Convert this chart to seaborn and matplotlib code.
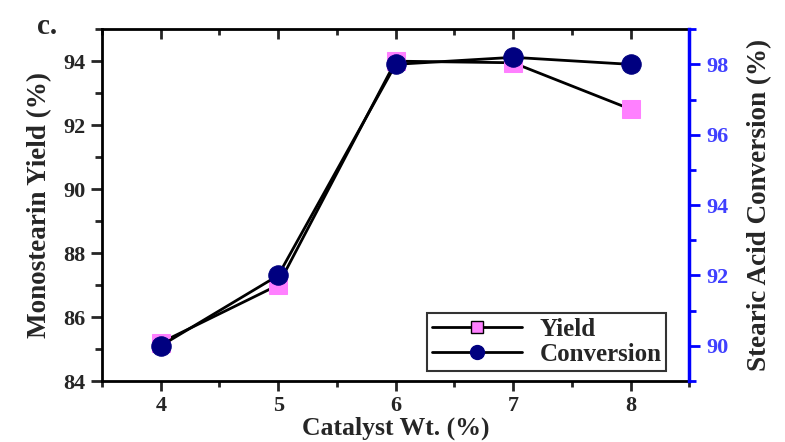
import matplotlib
matplotlib.use("Agg")
import matplotlib.pyplot as plt
from matplotlib.ticker import MultipleLocator
from matplotlib.lines import Line2D
import seaborn as sns
import pandas as pd

catalyst_wt = [4, 5, 6, 7, 8]
yield_pct = [85.2, 87.0, 94.0, 93.95, 92.5]
conversion_pct = [90.0, 92.0, 98.0, 98.2, 98.0]

sns.set_style("ticks")
plt.rcParams["font.family"] = ["Liberation Serif", "DejaVu Serif"]
plt.rcParams["font.weight"] = "bold"

df = pd.DataFrame({"wt": catalyst_wt, "yield": yield_pct, "conv": conversion_pct})

fig = plt.figure(figsize=(7.85, 4.42), dpi=100)
ax = fig.add_axes([0.130, 0.138, 0.748, 0.796])
ax2 = ax.twinx()

pink = "#ff80ff"
navy = "#000080"
blue = "#0000ff"

sns.lineplot(data=df, x="wt", y="yield", ax=ax, color="black", lw=2.0,
             marker="s", markersize=13, markerfacecolor=pink, markeredgecolor=pink,
             legend=False)
sns.lineplot(data=df, x="wt", y="conv", ax=ax2, color="black", lw=2.0,
             marker="o", markersize=14, markerfacecolor=navy, markeredgecolor=navy,
             legend=False)

ax.set_xlim(3.5, 8.5)
ax.set_ylim(84, 95)
ax2.set_ylim(89, 99)

ax.xaxis.set_major_locator(MultipleLocator(1))
ax.xaxis.set_minor_locator(MultipleLocator(0.5))
ax.yaxis.set_major_locator(MultipleLocator(2))
ax.yaxis.set_minor_locator(MultipleLocator(1))
ax2.set_yticks([90, 92, 94, 96, 98])
ax2.yaxis.set_minor_locator(MultipleLocator(1))

for sp in ax.spines.values():
    sp.set_linewidth(2)
    sp.set_color("black")
for name, sp in ax2.spines.items():
    sp.set_linewidth(2)
    sp.set_visible(name == "right")
ax2.spines["right"].set_color(blue)
ax2.spines["right"].set_linewidth(2.5)

tick_fs = 16
ax.tick_params(axis="x", which="both", direction="out", top=True, width=2, labelsize=tick_fs)
ax.tick_params(axis="x", which="major", length=7, pad=4)
ax.tick_params(axis="x", which="minor", length=4)
ax.tick_params(axis="y", which="both", direction="out", width=2, labelsize=tick_fs)
ax.tick_params(axis="y", which="major", length=8, pad=4)
ax.tick_params(axis="y", which="minor", length=5)
ax2.tick_params(axis="y", which="both", direction="out", width=2, colors=blue,
                labelsize=tick_fs, labelcolor="#4040ff")
ax2.tick_params(axis="y", which="major", length=8, pad=4)
ax2.tick_params(axis="y", which="minor", length=5)

# top ticks point inward
for t in ax.xaxis.get_major_ticks() + ax.xaxis.get_minor_ticks():
    t.tick2line.set_marker(matplotlib.lines.TICKDOWN)

for lab in ax.get_xticklabels() + ax.get_yticklabels() + ax2.get_yticklabels():
    lab.set_fontweight("bold")

ax.set_xlabel("Catalyst Wt. (%)", fontsize=18.5, fontweight="bold", labelpad=0)
ax.set_ylabel("Monostearin Yield (%)", fontsize=19.5, fontweight="bold", labelpad=8)
ax2.set_ylabel("Stearic Acid Conversion (%)", fontsize=19.5, fontweight="bold", labelpad=14)

fig.text(0.047, 0.940, "c.", fontsize=21, fontweight="bold", ha="left", va="center")

handles = [
    Line2D([], [], color="black", lw=2, marker="s", markersize=8,
           markerfacecolor=pink, markeredgecolor="black"),
    Line2D([], [], color="black", lw=2, marker="o", markersize=10,
           markerfacecolor=navy, markeredgecolor=navy),
]
leg = ax.legend(handles, ["Yield", "Conversion"], loc="lower right",
                bbox_to_anchor=(0.961, 0.028), borderaxespad=0,
                frameon=True, fancybox=False, edgecolor="black",
                prop={"size": 18, "weight": "bold"},
                handlelength=3.6, handletextpad=0.7, borderpad=0.2, labelspacing=0.1)
leg.get_frame().set_linewidth(1.5)

fig.savefig("out.png", dpi=100)
